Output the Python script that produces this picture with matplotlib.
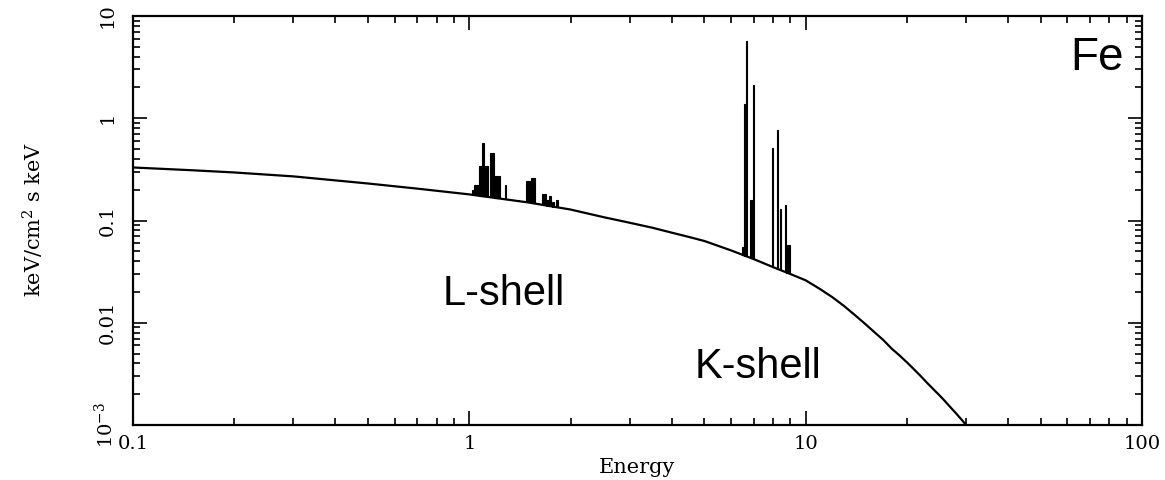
import numpy as np
import matplotlib
matplotlib.use("Agg")
import matplotlib.pyplot as plt

# continuum (keV, keV/cm^2 s keV)
cont_energy = [0.1, 0.15, 0.2, 0.3, 0.5, 0.7, 1.0, 1.5, 2.0, 2.5, 3.0, 3.5,
               4.0, 4.5, 5.0, 6.0, 7.0, 8.0, 9.0, 10.0, 11.0, 12.0, 13.0,
               14.0, 15.0, 16.0, 17.0, 18.0, 19.0, 20.0, 21.0, 22.0, 23.0,
               24.0, 25.0, 26.0, 27.0, 28.0, 29.0, 30.0, 31.0]
cont_flux = [0.33, 0.31, 0.295, 0.27, 0.23, 0.205, 0.18, 0.15, 0.128, 0.108,
             0.095, 0.085, 0.076, 0.069, 0.063, 0.051, 0.042, 0.035, 0.030,
             0.026, 0.0215, 0.0178, 0.0146, 0.0119, 0.0098, 0.0081, 0.0068,
             0.0056, 0.0048, 0.0041, 0.0035, 0.0030, 0.00257, 0.00223,
             0.00195, 0.0017, 0.00148, 0.0013, 0.00114, 0.00100, 0.00089]

# emission lines: energy bin edges and peak height
line_lo = [1.015, 1.03, 1.07, 1.094, 1.15, 1.185, 1.275, 1.395, 1.47, 1.53,
           1.65, 1.69, 1.72, 1.76, 1.81,
           6.48, 6.55, 6.66, 6.83, 6.97, 7.93, 8.21, 8.38, 8.68, 8.74]
line_hi = [1.025, 1.07, 1.14, 1.104, 1.185, 1.23, 1.285, 1.405, 1.51, 1.57,
           1.69, 1.72, 1.75, 1.79, 1.83,
           6.55, 6.66, 6.70, 6.97, 7.01, 7.97, 8.25, 8.42, 8.72, 9.0]
line_peak = [0.20, 0.22, 0.34, 0.57, 0.46, 0.27, 0.22, 0.16, 0.245, 0.26,
             0.18, 0.16, 0.175, 0.15, 0.16,
             0.055, 1.38, 5.7, 0.158, 2.1, 0.51, 0.76, 0.131, 0.142, 0.0575]

ytick_vals = [1e-3, 0.01, 0.1, 1, 10]
ytick_labels = [r"$\mathregular{10^{-3}}$", "0.01", "0.1", "1", "10"]
xtick_vals = [0.1, 1, 10, 100]
xtick_labels = ["0.1", "1", "10", "100"]

plt.rcParams['font.family'] = 'DejaVu Serif'
plt.rcParams['mathtext.fontset'] = 'dejavuserif'

W, H = 1165, 480
fig = plt.figure(figsize=(W / 100, H / 100), dpi=100)
ax = fig.add_axes([133 / W, 1 - 425 / H, (1142 - 133) / W, (425 - 16) / H])

ax.set_xscale('log')
ax.set_yscale('log')
ax.set_xlim(0.1, 100)
ax.set_ylim(1e-3, 10)

# lines sit on top of the continuum
lo = np.array(line_lo)
hi = np.array(line_hi)
mid = np.sqrt(lo * hi)
base = 10 ** np.interp(np.log10(mid), np.log10(cont_energy), np.log10(cont_flux))
ax.bar(lo, np.array(line_peak) - base, width=hi - lo, bottom=base, align='edge',
       color='black', edgecolor='black', linewidth=0.8, zorder=2)

ax.plot(cont_energy, cont_flux, color='black', linewidth=1.6, zorder=3)

ax.set_xticks(xtick_vals)
ax.set_xticklabels(xtick_labels)
ax.set_yticks(ytick_vals)
ax.set_yticklabels(ytick_labels, rotation=90, va='center')
ax.tick_params(which='both', direction='in', top=True, right=True, width=1.2)
ax.tick_params(which='major', length=10, labelsize=14)
ax.tick_params(axis='x', which='major', pad=7)
ax.tick_params(axis='y', which='major', pad=12)
ax.tick_params(which='minor', length=5)
ax.xaxis.set_minor_formatter(matplotlib.ticker.NullFormatter())
ax.yaxis.set_minor_formatter(matplotlib.ticker.NullFormatter())
for s in ax.spines.values():
    s.set_linewidth(1.6)

ax.set_xlabel("Energy", fontsize=15, labelpad=4)
fig.text(33 / W, 1 - 220 / H, r"keV/cm$^2$ s keV", rotation=90, fontsize=15,
         ha='center', va='center')

ax.text(0.929, 0.868, "Fe", transform=ax.transAxes, fontsize=33,
        family='Liberation Sans', va='baseline')
ax.text(0.307, 0.293, "L-shell", transform=ax.transAxes, fontsize=30,
        family='Liberation Sans', va='baseline')
ax.text(0.557, 0.115, "K-shell", transform=ax.transAxes, fontsize=30,
        family='Liberation Sans', va='baseline')

fig.savefig("out.png", dpi=100)
